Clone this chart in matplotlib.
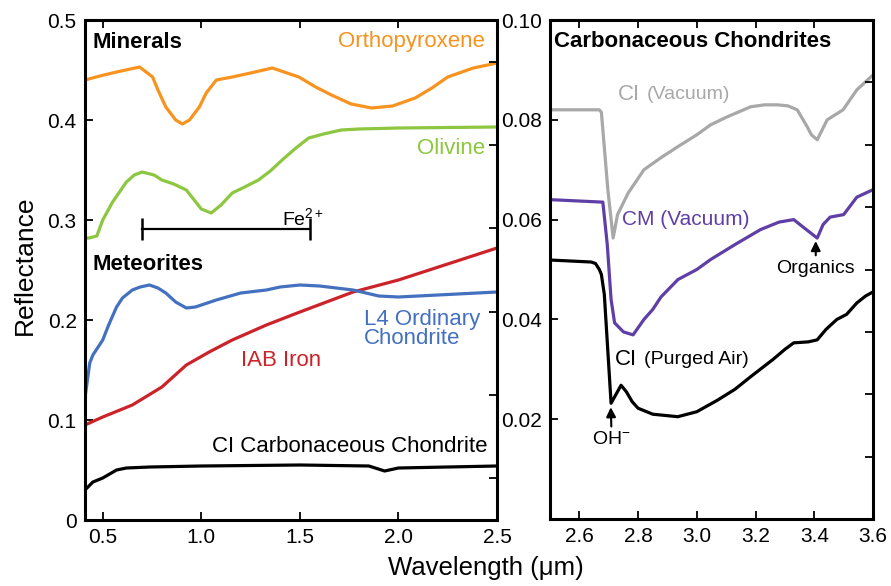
import numpy as np
import matplotlib
matplotlib.use("Agg")
import matplotlib.pyplot as plt

plt.rcParams["font.family"] = ["Liberation Sans", "DejaVu Sans"]
plt.rcParams["mathtext.fontset"] = "custom"
plt.rcParams["mathtext.rm"] = "Liberation Sans"
plt.rcParams["mathtext.it"] = "Liberation Sans"
plt.rcParams["mathtext.default"] = "regular"

# --- left panel: 0.4-2.5 um spectra ---
opx_wl = [0.41, 0.485, 0.57, 0.687, 0.753, 0.78, 0.82, 0.87, 0.904, 0.94, 0.99, 1.025, 1.076,
          1.157, 1.25, 1.36, 1.495, 1.58, 1.66, 1.76, 1.864, 1.97, 2.085, 2.17, 2.25, 2.38, 2.5]
opx_r = [0.440, 0.444, 0.448, 0.453, 0.443, 0.430, 0.413, 0.400, 0.396, 0.400, 0.413, 0.427,
         0.440, 0.443, 0.447, 0.452, 0.443, 0.433, 0.425, 0.416, 0.412, 0.414, 0.422, 0.432,
         0.443, 0.452, 0.457]

oliv_wl = [0.41, 0.43, 0.47, 0.50, 0.55, 0.62, 0.66, 0.70, 0.76, 0.80, 0.86, 0.924, 0.98,
           1.00, 1.05, 1.10, 1.157, 1.22, 1.29, 1.35, 1.41, 1.48, 1.545, 1.62, 1.71, 1.8,
           2.0, 2.5]
oliv_r = [0.282, 0.282, 0.284, 0.300, 0.318, 0.338, 0.345, 0.348, 0.345, 0.340, 0.336, 0.330,
          0.316, 0.311, 0.307, 0.315, 0.327, 0.333, 0.340, 0.349, 0.360, 0.372, 0.382, 0.386,
          0.390, 0.391, 0.392, 0.393]

l4_wl = [0.41, 0.434, 0.45, 0.5, 0.53, 0.57, 0.60, 0.65, 0.69, 0.737, 0.78, 0.82, 0.87,
         0.924, 0.97, 1.076, 1.2, 1.33, 1.4, 1.5, 1.6, 1.77, 1.9, 2.0, 2.2, 2.5]
l4_r = [0.122, 0.157, 0.165, 0.180, 0.195, 0.213, 0.222, 0.230, 0.233, 0.235, 0.232, 0.227,
        0.218, 0.212, 0.213, 0.220, 0.227, 0.230, 0.233, 0.235, 0.234, 0.230, 0.224, 0.223,
        0.225, 0.228]

iab_wl = [0.41, 0.5, 0.65, 0.8, 0.924, 1.04, 1.157, 1.33, 1.5, 1.77, 2.0, 2.25, 2.5]
iab_r = [0.095, 0.103, 0.115, 0.133, 0.155, 0.168, 0.180, 0.195, 0.208, 0.228, 0.240,
         0.256, 0.272]

cc_wl = [0.41, 0.45, 0.5, 0.57, 0.62, 0.74, 1.0, 1.5, 1.85, 1.93, 2.0, 2.5]
cc_r = [0.030, 0.038, 0.042, 0.050, 0.052, 0.053, 0.054, 0.055, 0.054, 0.049, 0.052, 0.054]

fe_band = [0.70, 1.55]
fe_level = 0.291

# --- right panel: 2.5-3.6 um spectra ---
civ_wl = [2.5, 2.668, 2.675, 2.697, 2.715, 2.73, 2.766, 2.82, 2.88, 2.935, 3.0, 3.047, 3.1,
          3.183, 3.23, 3.274, 3.31, 3.342, 3.376, 3.39, 3.41, 3.444, 3.498, 3.545, 3.6]
civ_r = [0.082, 0.082, 0.0815, 0.066, 0.0563, 0.061, 0.0653, 0.070, 0.0725, 0.0746, 0.077,
         0.079, 0.0805, 0.0826, 0.083, 0.083, 0.0828, 0.082, 0.0786, 0.077, 0.076, 0.080,
         0.082, 0.086, 0.089]

cmv_wl = [2.5, 2.68, 2.695, 2.708, 2.72, 2.75, 2.783, 2.82, 2.85, 2.878, 2.936, 3.0, 3.047,
          3.13, 3.217, 3.28, 3.33, 3.362, 3.41, 3.43, 3.454, 3.5, 3.545, 3.6]
cmv_r = [0.064, 0.0635, 0.055, 0.044, 0.0393, 0.0375, 0.0369, 0.040, 0.042, 0.0445, 0.048,
         0.050, 0.052, 0.055, 0.058, 0.0595, 0.060, 0.0585, 0.0563, 0.059, 0.0605, 0.061,
         0.0645, 0.066]

cip_wl = [2.5, 2.64, 2.655, 2.668, 2.675, 2.685, 2.708, 2.742, 2.76, 2.78, 2.8, 2.85, 2.935,
          3.0, 3.07, 3.13, 3.183, 3.26, 3.3, 3.33, 3.38, 3.41, 3.44, 3.477, 3.51, 3.545,
          3.575, 3.6]
cip_r = [0.0519, 0.0515, 0.0512, 0.050, 0.049, 0.045, 0.0232, 0.0268, 0.0255, 0.0235,
         0.0222, 0.021, 0.0205, 0.0215, 0.0238, 0.026, 0.0285, 0.032, 0.034, 0.0353,
         0.0355, 0.0359, 0.038, 0.040, 0.041, 0.0433, 0.0447, 0.0455]

C_OPX = "#F7931E"
C_OLIV = "#8DC63F"
C_L4 = "#4470C0"
C_IAB = "#CC2229"
C_CIV = "#A8A8A8"
C_CMV = "#5F3FA6"
LW = 2.3

fig = plt.figure(figsize=(8.91, 5.86), dpi=100)
W, H = 891, 586
ax1 = fig.add_axes([85 / W, (H - 520) / H, 412 / W, 500 / H])
ax2 = fig.add_axes([550 / W, (H - 519) / H, 323 / W, 499 / H])


def style(ax):
    for s in ax.spines.values():
        s.set_linewidth(2.2)
    ax.tick_params(direction="in", top=True, length=6, width=1.3, labelsize=15, pad=6)


def right_ticks(ax, n, pos):
    tw = ax.twinx()
    tw.set_ylim(0, n)
    tw.set_yticks(pos)
    tw.tick_params(direction="in", length=6, width=1.3, labelright=False)
    for s in tw.spines.values():
        s.set_visible(False)
    return tw


# left panel
ax1.plot(opx_wl, opx_r, color=C_OPX, lw=LW)
ax1.plot(oliv_wl, oliv_r, color=C_OLIV, lw=LW)
ax1.plot(iab_wl, iab_r, color=C_IAB, lw=LW)
ax1.plot(l4_wl, l4_r, color=C_L4, lw=LW)
ax1.plot(cc_wl, cc_r, color="black", lw=LW)
ax1.plot(fe_band, [fe_level, fe_level], color="black", lw=1.6, marker="|", ms=16, mew=1.8)

ax1.set_xlim(0.41, 2.5)
ax1.set_ylim(0, 0.5)
ax1.set_xticks([0.5, 1.0, 1.5, 2.0, 2.5])
ax1.set_xticklabels(["0.5", "1.0", "1.5", "2.0", "2.5"])
ax1.set_yticks([0, 0.1, 0.2, 0.3, 0.4, 0.5])
ax1.set_yticklabels(["0", "0.1", "0.2", "0.3", "0.4", "0.5"])
style(ax1)
right_ticks(ax1, 6, [0.5, 1.5, 2.5, 3.5, 4.5, 5.5])

ax1.text(0.45, 0.478, "Minerals", fontsize=16, fontweight="bold", va="center")
ax1.text(2.44, 0.478, "Orthopyroxene", fontsize=16, color=C_OPX, ha="right", va="center")
ax1.text(2.44, 0.372, "Olivine", fontsize=16, color=C_OLIV, ha="right", va="center")
ax1.text(1.41, 0.302, "Fe$^{2+}$", fontsize=14, va="center")
ax1.text(0.45, 0.255, "Meteorites", fontsize=16, fontweight="bold", va="center")
ax1.text(1.823, 0.191, "L4 Ordinary\nChondrite", fontsize=16, color=C_L4, va="center",
         linespacing=0.85)
ax1.text(1.20, 0.160, "IAB Iron", fontsize=16, color=C_IAB, va="center")
ax1.text(2.45, 0.074, "CI Carbonaceous Chondrite", fontsize=16, ha="right", va="center")

# right panel
ax2.plot(civ_wl, civ_r, color=C_CIV, lw=LW)
ax2.plot(cmv_wl, cmv_r, color=C_CMV, lw=LW)
ax2.plot(cip_wl, cip_r, color="black", lw=LW)
ax2.set_xlim(2.5, 3.6)
ax2.set_ylim(0, 0.10)
ax2.set_xticks([2.6, 2.8, 3.0, 3.2, 3.4, 3.6])
ax2.set_xticklabels(["2.6", "2.8", "3.0", "3.2", "3.4", "3.6"])
ax2.set_yticks([0.02, 0.04, 0.06, 0.08, 0.10])
ax2.set_yticklabels(["0.02", "0.04", "0.06", "0.08", "0.10"])
style(ax2)
right_ticks(ax2, 8, [1, 2, 3, 4, 5, 6, 7])

ax2.text(2.515, 0.0956, "Carbonaceous Chondrites", fontsize=16, fontweight="bold", va="center")


def two_size(ax, x, y, big, small, color):
    t = ax.text(x, y, big, fontsize=16, color=color, va="center")
    ax.annotate(small, xy=(1, 0.5), xycoords=t, xytext=(5, 0), textcoords="offset points",
                fontsize=14, color=color, va="center")


two_size(ax2, 2.732, 0.0850, "CI", "(Vacuum)", C_CIV)
ax2.text(2.746, 0.060, "CM (Vacuum)", fontsize=15, color=C_CMV, va="center")
two_size(ax2, 2.722, 0.0319, "CI", "(Purged Air)", "black")

ax2.annotate("Organics", xy=(3.405, 0.0557), xytext=(3.405, 0.0503), fontsize=14,
             ha="center", va="center",
             arrowprops=dict(arrowstyle="-|>,head_length=0.4,head_width=0.2", color="black",
                             lw=1.5, shrinkA=1, shrinkB=0))
ax2.annotate("OH$^{-}$", xy=(2.707, 0.0224), xytext=(2.71, 0.0160), fontsize=14,
             ha="center", va="center",
             arrowprops=dict(arrowstyle="-|>,head_length=0.4,head_width=0.2", color="black",
                             lw=1.5, shrinkA=1, shrinkB=0))

fig.text(486 / W, 1 - 568 / H, "Wavelength (\u03bcm)", fontsize=18.5, ha="center", va="center")
fig.text(25 / W, 1 - 265 / H, "Reflectance", fontsize=19, rotation=90, ha="center", va="center")

fig.savefig("out.png", dpi=100)
